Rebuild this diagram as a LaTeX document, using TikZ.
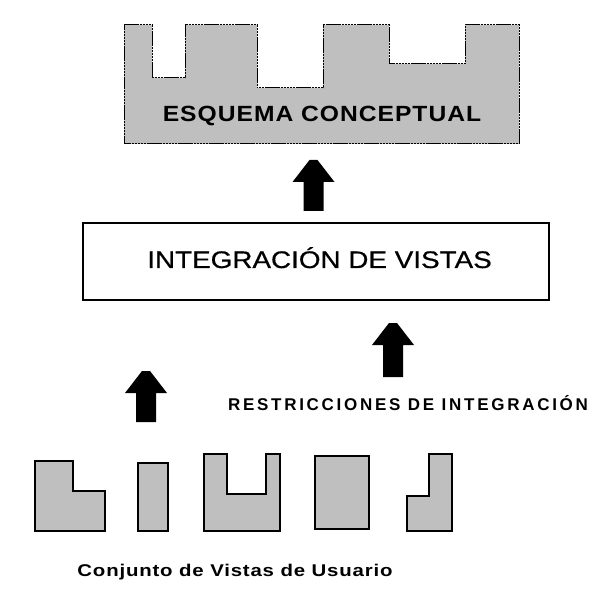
\documentclass[tikz,border=0pt]{standalone}
\usepackage{fontspec}
\setmainfont{Liberation Sans}
\newcommand{\blockup}[3]{\fill[black] (#1-4,#2)--(#1+4,#2)--(#1+21,#2+22)--(#1+10,#2+22)--(#1+10,#3)--(#1-10,#3)--(#1-10,#2+22)--(#1-21,#2+22)--cycle;}
\begin{document}
\begin{tikzpicture}[x=1pt,y=-1pt]
            \useasboundingbox (0,0) rectangle (604,593);
            \definecolor{viewgray}{rgb}{0.75, 0.75, 0.75};
            \tikzset{view/.style={fill=viewgray, draw=black, line width=1.3pt}}
            
            \draw [fill=viewgray, draw=black, line width=1pt, dash pattern=on 2.5pt off 0.6pt] (124,25)--(152,25)--(152,78)--(185,78)--(185,25)--(257,25)--(257,88)--(323,88)--(323,25)--(389,25)--(389,64)--(465,64)--(465,25)--(519,25)--(519,144)--(124,144)--cycle;
            \node[anchor=base, inner sep=0] (esquema) at (322,122) {\fontsize{22}{22}\selectfont\bfseries\addfontfeature{LetterSpace=4}\scalebox{1.12}[1]{ESQUEMA CONCEPTUAL}};
            
            \blockup{313.5}{160}{211}
            
            \draw [fill=white, draw=black, line width=1.5pt] (83,223) rectangle (549,300);
            \node[anchor=base, inner sep=0] (integracion) at (319.5,268) {\fontsize{24}{24}\selectfont\addfontfeature{FakeBold=0.6}\scalebox{1.16}[1]{INTEGRACIÓN DE VISTAS}};
            
            \blockup{393}{323}{377}
            \blockup{146}{371}{422}
            \node[anchor=base, inner sep=0] (restricciones) at (408,410) {\fontsize{17}{17}\selectfont\bfseries\addfontfeature{LetterSpace=16}RESTRICCIONES DE INTEGRACIÓN};
            
            \draw [view] (35,461)--(73,461)--(73,491)--(105,491)--(105,531)--(35,531)--cycle;
            \draw [view] (138,463) rectangle (168,531);
            \draw [view] (204,454)--(227,454)--(227,494)--(266,494)--(266,454)--(280,454)--(280,531)--(204,531)--cycle;
            \draw [view] (315,456) rectangle (369,529);
            \draw [view] (429,454)--(452,454)--(452,531)--(407,531)--(407,496)--(429,496)--cycle;
            \node[anchor=base, inner sep=0] (usuario) at (235,576) {\fontsize{17}{17}\selectfont\bfseries\addfontfeature{LetterSpace=4}\scalebox{1.2}[1]{Conjunto de Vistas de Usuario}};
            
\end{tikzpicture}
\end{document}
